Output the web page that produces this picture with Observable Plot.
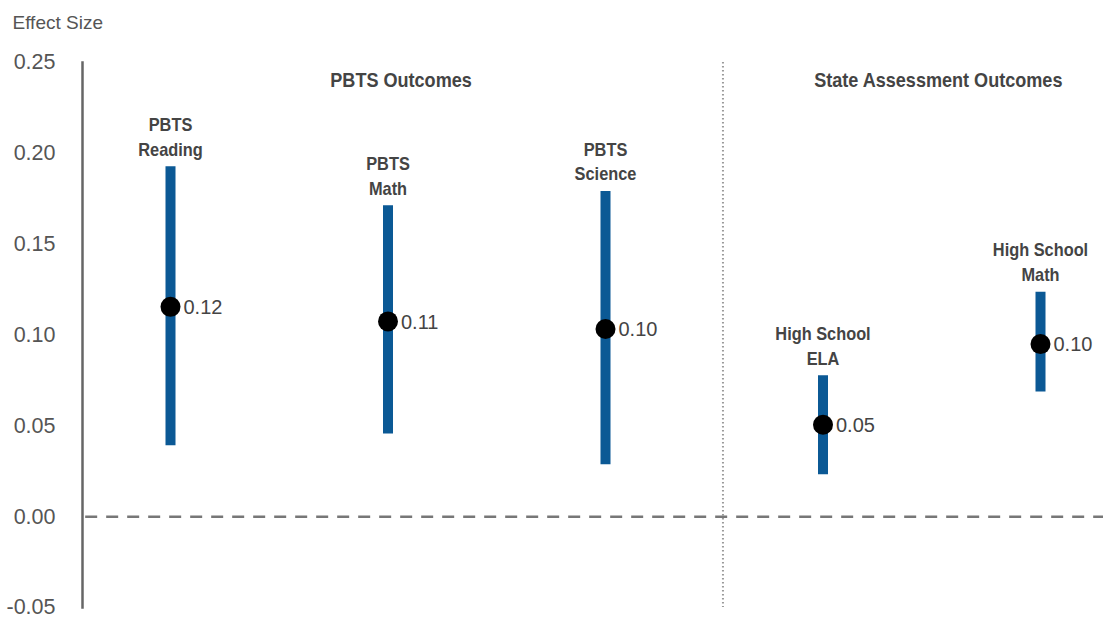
<!DOCTYPE html>
<html>
<head>
<meta charset="utf-8">
<script src="https://cdn.jsdelivr.net/npm/d3@7"></script>
<script src="https://cdn.jsdelivr.net/npm/@observablehq/plot@0.6"></script>
<style>
  html, body { margin: 0; padding: 0; background: #fff; }
  #chart svg { display: block; }
</style>
</head>
<body>
<div id="chart"></div>
<script>
const categories = ["PBTS\nReading", "PBTS\nMath", "PBTS\nScience", "High School\nELA", "High School\nMath"];
const groups = ["PBTS", "PBTS", "PBTS", "State", "State"];
const estimates = [0.1155, 0.1075, 0.1033, 0.0506, 0.0950];
const lower = [0.0390, 0.0455, 0.0286, 0.0231, 0.0686];
const upper = [0.1926, 0.1712, 0.1790, 0.0776, 0.1236];
const valueLabels = ["0.12", "0.11", "0.10", "0.05", "0.10"];
const groupTitles = ["PBTS Outcomes", "State Assessment Outcomes"];
const groupCenters = [1.06, 3.53];
const separatorAt = [2.54];
const yTicks = [-0.05, 0, 0.05, 0.10, 0.15, 0.20, 0.25];

const data = categories.map((c, i) => ({
  i, label: c, group: groups[i], est: estimates[i], lo: lower[i], hi: upper[i], vl: valueLabels[i]
}));
const headings = groupTitles.map((t, i) => ({t, x: groupCenters[i]}));

const font = "'Liberation Sans Narrow', 'Liberation Sans', 'DejaVu Sans Condensed', sans-serif";

const chart = Plot.plot({
  width: 1103,
  height: 617,
  marginLeft: 82,
  marginRight: 0,
  marginTop: 62,
  marginBottom: 10,
  style: {fontFamily: font, background: "#fff"},
  x: {domain: [0, 4], range: [170, 1040], axis: null},
  y: {domain: [-0.05, 0.25]},
  marks: [
    Plot.axisY({
      ticks: yTicks,
      tickFormat: d => d.toFixed(2),
      tickSize: 0,
      tickPadding: 27,
      fontSize: 21.5,
      fill: "#555",
      label: null
    }),
    Plot.frame({anchor: "left", stroke: "#666", strokeWidth: 2.5}),
    Plot.ruleX(separatorAt, {stroke: "#999", strokeWidth: 2, strokeDasharray: "1.5,2.5"}),
    Plot.ruleY([0], {x1: 0 - 0.39, x2: 4.3, stroke: "#777", strokeWidth: 2.5, strokeDasharray: "12,9"}),
    Plot.ruleX(data, {x: "i", y1: "lo", y2: "hi", stroke: "#0b5995", strokeWidth: 10}),
    Plot.dot(data, {x: "i", y: "est", r: 10, fill: "#000"}),
    Plot.text(data, {x: "i", y: "est", text: "vl", textAnchor: "start", dx: 13, dy: 1, fontSize: 20, fill: "#444"}),
    Plot.text(data, {x: "i", y: "hi", text: "label", lineAnchor: "bottom", dy: -11, fontSize: 19, fontWeight: "bold", fill: "#444", lineHeight: 1.3, className: "narrow"}),
    Plot.text(headings, {x: "x", text: "t", frameAnchor: "top", dy: 10, fontSize: 21, fontWeight: "bold", fill: "#444", className: "narrow"}),
    Plot.text(["Effect Size"], {frameAnchor: "top-left", dx: -70, dy: -47, textAnchor: "start", fontSize: 19, fill: "#555"})
  ]
});
document.getElementById("chart").appendChild(chart);

// condense bold labels to mimic a narrow typeface
chart.querySelectorAll("g.narrow text").forEach(t => {
  const parts = t.querySelectorAll("tspan");
  const els = parts.length ? Array.from(parts) : [t];
  els.forEach(el => {
    const len = el.getComputedTextLength();
    el.setAttribute("textLength", (len * 0.86).toFixed(1));
    el.setAttribute("lengthAdjust", "spacingAndGlyphs");
  });
});
</script>
</body>
</html>
